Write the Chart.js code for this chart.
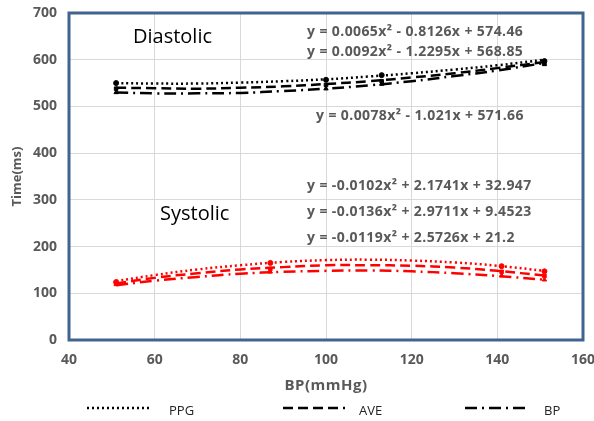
<!DOCTYPE html>
<html>
<head>
<meta charset="utf-8">
<script src="https://cdn.jsdelivr.net/npm/chart.js@4/dist/chart.umd.min.js"></script>
<style>
  html, body { margin: 0; padding: 0; background: #fff; }
  #wrap { width: 594px; height: 421px; position: relative; }
</style>
</head>
<body>
<div id="wrap"><canvas id="chart" width="594" height="421"></canvas></div>
<script>
const trendX = [51, 60, 70, 80, 90, 100, 110, 120, 130, 140, 151];

// Diastolic trendlines (ms)
const diaPpgTrend = [550, 549, 549, 551, 554, 558, 564, 571, 579, 588, 600];
const diaAveTrend = [540, 539, 538, 540, 543, 548, 554, 562, 571, 582, 595];
const diaBpTrend  = [530, 528, 528, 529, 533, 538, 545, 554, 565, 577, 593];

// Systolic trendlines (ms)
const sysPpgTrend = [126, 139, 151, 160, 167, 171, 172, 170, 166, 159, 148];
const sysAveTrend = [121, 133, 143, 151, 156, 160, 160, 159, 155, 148, 138];
const sysBpTrend  = [117, 127, 135, 142, 146, 148, 149, 147, 143, 137, 129];

// Measured points
const diaX = [51, 100, 113, 151];
const diaPpg = [550, 557, 567, 597];
const diaAve = [538, 546, 554, 593];
const diaBp  = [530, 538, 548, 590];

const sysX = [51, 87, 141, 151];
const sysPpg = [124, 165, 158, 147];
const sysAve = [122, 152, 146, 137];
const sysBp  = [119, 146, 138, 129];

const diaEquations = [
  'y = 0.0065x\u00B2 - 0.8126x + 574.46',
  'y = 0.0092x\u00B2 - 1.2295x + 568.85',
  'y = 0.0078x\u00B2 - 1.021x + 571.66'
];
const sysEquations = [
  'y = -0.0102x\u00B2 + 2.1741x + 32.947',
  'y = -0.0136x\u00B2 + 2.9711x + 9.4523',
  'y = -0.0119x\u00B2 + 2.5726x + 21.2'
];
const legendNames = ['PPG', 'AVE', 'BP'];

const FONT = '"Open Sans", "DejaVu Sans", sans-serif';
const DOT = [2, 3], DASH = [10, 5], DASHDOT = [12, 5, 2, 5];
const pts = (xs, ys) => xs.map((x, i) => ({ x, y: ys[i] }));

function trend(ys, color, dash) {
  return { data: pts(trendX, ys), showLine: true, borderColor: color, borderWidth: 2.5,
    borderDash: dash, pointRadius: 0, tension: 0.4, fill: false };
}
function marks(xs, ys, color, style) {
  return { data: pts(xs, ys), showLine: false, pointStyle: style, pointRadius: 2.5,
    backgroundColor: color, borderColor: color, borderWidth: 1 };
}

const decor = {
  id: 'decor',
  afterDraw(chart) {
    const { ctx, chartArea: a } = chart;
    ctx.save();
    // plot frame
    ctx.strokeStyle = '#41648f';
    ctx.lineWidth = 3;
    ctx.strokeRect(a.left, a.top, a.right - a.left, a.bottom - a.top);

    // big labels
    ctx.fillStyle = '#000';
    ctx.font = '20px ' + FONT;
    ctx.textBaseline = 'middle';
    ctx.textAlign = 'left';
    ctx.fillText('Diastolic', 133, 37);
    ctx.fillText('Systolic', 160, 214);

    // trendline equations
    ctx.fillStyle = '#595959';
    ctx.font = 'bold 14px ' + FONT;
    ctx.letterSpacing = '0.4px';
    ctx.fillText(diaEquations[0], 307, 32);
    ctx.fillText(diaEquations[1], 307, 52);
    ctx.fillText(diaEquations[2], 316, 116);
    ctx.fillText(sysEquations[0], 307, 186);
    ctx.fillText(sysEquations[1], 307, 212);
    ctx.fillText(sysEquations[2], 307, 238);

    // x axis title
    ctx.font = 'bold 15px ' + FONT;
    ctx.letterSpacing = '0.5px';
    ctx.textAlign = 'center';
    ctx.fillText('BP(mmHg)', (a.left + a.right) / 2, 386);
    ctx.letterSpacing = '0px';

    // legend
    const items = [[87, 149, 169, DOT], [283, 345, 359, DASH], [465, 528, 544, DASHDOT]];
    const ly = 408;
    items.forEach(([x0, x1, tx, dash], i) => {
      ctx.strokeStyle = '#000';
      ctx.lineWidth = 2.5;
      ctx.setLineDash(dash);
      ctx.beginPath();
      ctx.moveTo(x0, ly);
      ctx.lineTo(x1, ly);
      ctx.stroke();
      ctx.setLineDash([]);
      ctx.fillStyle = '#222';
      ctx.font = '13px ' + FONT;
      ctx.textAlign = 'left';
      ctx.fillText(legendNames[i], tx, ly + 3);
    });
    ctx.restore();
  }
};

new Chart(document.getElementById('chart'), {
  type: 'scatter',
  data: {
    datasets: [
      trend(diaPpgTrend, '#000', DOT),
      trend(diaAveTrend, '#000', DASH),
      trend(diaBpTrend, '#000', DASHDOT),
      trend(sysPpgTrend, '#ff0000', DOT),
      trend(sysAveTrend, '#ff0000', DASH),
      trend(sysBpTrend, '#ff0000', DASHDOT),
      marks(diaX, diaPpg, '#000', 'circle'),
      marks(diaX, diaAve, '#000', 'rect'),
      marks(diaX, diaBp, '#000', 'triangle'),
      marks(sysX, sysPpg, '#ff0000', 'circle'),
      marks(sysX, sysAve, '#ff0000', 'rect'),
      marks(sysX, sysBp, '#ff0000', 'triangle')
    ]
  },
  options: {
    responsive: false,
    animation: false,
    devicePixelRatio: 1,
    layout: { padding: { left: 0, top: 13, right: 11, bottom: 0 } },
    plugins: { legend: { display: false }, tooltip: { enabled: false } },
    scales: {
      x: {
        type: 'linear', min: 40, max: 160,
        ticks: { stepSize: 20, padding: 12, color: '#595959',
          font: { family: FONT, size: 14, weight: 'bold' } },
        grid: { color: '#d9d9d9', drawTicks: false },
        border: { display: false },
        afterFit(scale) { scale.height = 81; scale.paddingRight = 0; scale.paddingLeft = 0; }
      },
      y: {
        type: 'linear', min: 0, max: 700,
        ticks: { stepSize: 100, padding: 12, color: '#595959',
          font: { family: FONT, size: 14, weight: 'bold' } },
        grid: { color: '#d9d9d9', drawTicks: false },
        border: { display: false },
        title: { display: true, text: 'Time(ms)', color: '#595959', padding: { top: 9, bottom: 0 },
          font: { family: FONT, size: 13, weight: 'bold' } },
        afterFit(scale) { scale.width = 69; scale.paddingTop = 0; scale.paddingBottom = 0; }
      }
    }
  },
  plugins: [decor]
});
</script>
</body>
</html>
